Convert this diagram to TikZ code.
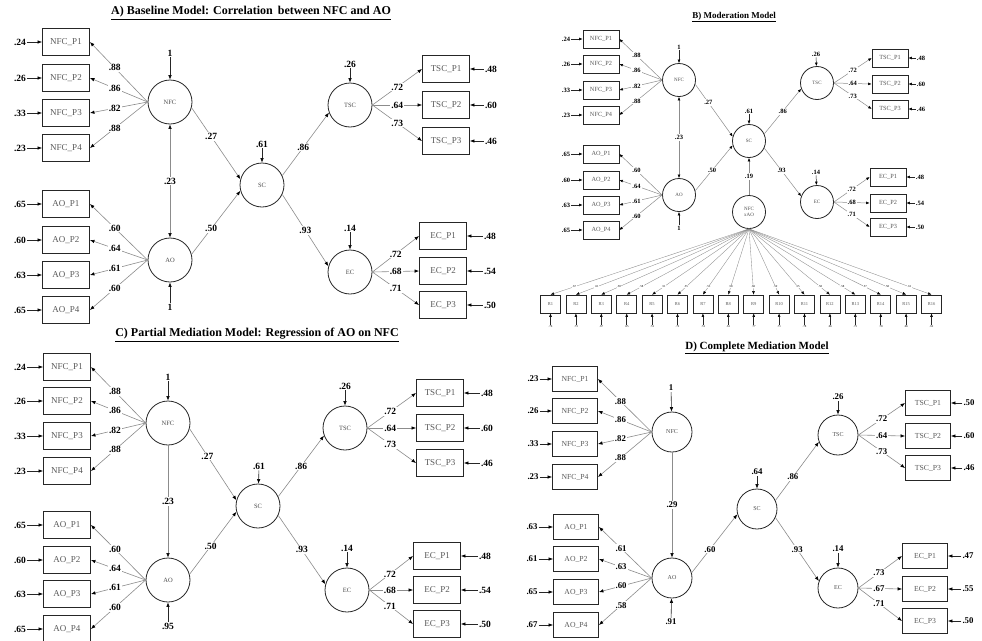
\documentclass[tikz,border=0pt]{standalone}
\usepackage{fontspec}
\setmainfont{Liberation Serif}
\usetikzlibrary{arrows.meta, positioning}

\tikzset{
  lat/.style={circle, draw=black!85, line width=0.8pt, minimum size=44pt, inner sep=0pt,
    align=center, text=black!70, font=\fontsize{6.5}{7}\selectfont},
  obs/.style={rectangle, draw=black!85, line width=0.9pt, minimum width=47pt, minimum height=27pt,
    inner sep=0pt, text=black!65, font=\fontsize{9}{10}\selectfont},
  num/.style={inner sep=1pt, font=\bfseries\fontsize{9.5}{10}\selectfont},
  coef/.style={num, fill=white},
  load/.style={draw=black!45, line width=0.6pt, -{Latex[length=4.5pt, width=3.5pt, color=black]}},
  both/.style={draw=black!45, line width=0.6pt,
    {Latex[length=4.5pt, width=3.5pt, color=black]}-{Latex[length=4.5pt, width=3.5pt, color=black]}},
  err/.style={draw=black!85, line width=0.6pt, -{Latex[length=4.5pt, width=3.5pt, color=black]}},
  heading/.style={font=\bfseries\fontsize{12}{14}\selectfont}
}

\begin{document}
\begin{tikzpicture}[x=1pt, y=-1pt]
\fill[white] (0,0) rectangle (982,640);
\useasboundingbox (0,0) rectangle (982,640);

% A) baseline model
\node[heading] (A-title) at (251,13) {\underline{A) Baseline Model: Correlation\, between NFC and AO}};
\node[lat] (A-NFC) at (170,102) {NFC};
\node[lat] (A-AO)  at (170,260) {AO};
\node[lat] (A-SC)  at (262,185) {SC};
\node[lat] (A-TSC) at (350,105) {TSC};
\node[lat] (A-EC)  at (350,272) {EC};
\foreach \i/\y/\er/\ld in {1/42/.24/.88, 2/78/.26/.86, 3/113/.33/.82, 4/148/.23/.88} {
  \node[obs] (A-NFC\i) at (66,\y) {NFC\_P\i};
  \node[num] (A-eNFC\i) at (20,\y) {\er};
  \draw[err] (A-eNFC\i) -- (A-NFC\i);
  \draw[load] (A-NFC.west) -- node[coef, pos=0.57] {\ld} (A-NFC\i.east);
}
\foreach \i/\y/\er/\ld in {1/204/.65/.60, 2/240/.60/.64, 3/275/.63/.61, 4/310/.65/.60} {
  \node[obs] (A-AO\i) at (66,\y) {AO\_P\i};
  \node[num] (A-eAO\i) at (20,\y) {\er};
  \draw[err] (A-eAO\i) -- (A-AO\i);
  \draw[load] (A-AO.west) -- node[coef, pos=0.57] {\ld} (A-AO\i.east);
}
\foreach \i/\y/\er/\ld in {1/69/.48/.72, 2/105/.60/.64, 3/141/.46/.73} {
  \node[obs] (A-TSC\i) at (446,\y) {TSC\_P\i};
  \node[num] (A-eTSC\i) at (491,\y) {\er};
  \draw[err] (A-eTSC\i) -- (A-TSC\i);
  \draw[load] (A-TSC.east) -- node[coef, pos=0.5] {\ld} (A-TSC\i.west);
}
\foreach \i/\y/\er/\ld in {1/236/.48/.72, 2/271/.54/.68, 3/305/.50/.71} {
  \node[obs] (A-EC\i) at (443,\y) {EC\_P\i};
  \node[num] (A-eEC\i) at (490,\y) {\er};
  \draw[err] (A-eEC\i) -- (A-EC\i);
  \draw[load] (A-EC.east) -- node[coef, pos=0.5] {\ld} (A-EC\i.west);
}
\draw[load] (A-NFC.-15) -- node[coef, pos=0.4] {.27} (A-SC.165);
\draw[load] (A-AO.15) -- node[coef, pos=0.4] {.50} (A-SC.195);
\draw[load] (A-SC.25) -- node[coef, pos=0.45] {.86} (A-TSC.200);
\draw[load] (A-SC.-25) -- node[coef, pos=0.5] {.93} (A-EC.165);
\draw[both] (A-NFC) -- node[coef] {.23} (A-AO);
\node[num] (A-rNFC) at (170,53) {1};
\node[num] (A-rAO) at (170,307) {1};
\node[num] (A-rSC) at (262,144) {.61};
\node[num] (A-rTSC) at (350,64) {.26};
\node[num] (A-rEC) at (350,228) {.14};
\draw[err] (A-rNFC) -- (A-NFC);
\draw[err] (A-rAO) -- (A-AO);
\draw[err] (A-rSC) -- (A-SC);
\draw[err] (A-rTSC) -- (A-TSC);
\draw[err] (A-rEC) -- (A-EC);

% C) partial mediation model
\node[heading] (C-title) at (257,335) {\underline{C) Partial Mediation Model: Regression of AO on NFC}};
\node[lat] (C-NFC) at (168,423) {NFC};
\node[lat] (C-AO)  at (168,580) {AO};
\node[lat] (C-SC)  at (258,506) {SC};
\node[lat] (C-TSC) at (345,428) {TSC};
\node[lat] (C-EC)  at (347,590) {EC};
\foreach \i/\y/\er/\ld in {1/367/.24/.88, 2/401/.26/.86, 3/436/.33/.82, 4/471/.23/.88} {
  \node[obs] (C-NFC\i) at (67,\y) {NFC\_P\i};
  \node[num] (C-eNFC\i) at (20,\y) {\er};
  \draw[err] (C-eNFC\i) -- (C-NFC\i);
  \draw[load] (C-NFC.west) -- node[coef, pos=0.56] {\ld} (C-NFC\i.east);
}
\foreach \i/\y/\er/\ld in {1/525/.65/.60, 2/560/.60/.64, 3/594/.63/.61, 4/629/.65/.60} {
  \node[obs] (C-AO\i) at (67,\y) {AO\_P\i};
  \node[num] (C-eAO\i) at (20,\y) {\er};
  \draw[err] (C-eAO\i) -- (C-AO\i);
  \draw[load] (C-AO.west) -- node[coef, pos=0.56] {\ld} (C-AO\i.east);
}
\foreach \i/\y/\er/\ld in {1/393/.48/.72, 2/428/.60/.64, 3/463/.46/.73} {
  \node[obs] (C-TSC\i) at (440,\y) {TSC\_P\i};
  \node[num] (C-eTSC\i) at (487,\y) {\er};
  \draw[err] (C-eTSC\i) -- (C-TSC\i);
  \draw[load] (C-TSC.east) -- node[coef, pos=0.47] {\ld} (C-TSC\i.west);
}
\foreach \i/\y/\er/\ld in {1/556/.48/.72, 2/590/.54/.68, 3/624/.50/.71} {
  \node[obs] (C-EC\i) at (437,\y) {EC\_P\i};
  \node[num] (C-eEC\i) at (485,\y) {\er};
  \draw[err] (C-eEC\i) -- (C-EC\i);
  \draw[load] (C-EC.east) -- node[coef, pos=0.47] {\ld} (C-EC\i.west);
}
\draw[load] (C-NFC.-15) -- node[coef, pos=0.38] {.27} (C-SC.165);
\draw[load] (C-AO.15) -- node[coef, pos=0.45] {.50} (C-SC.195);
\draw[load] (C-SC.25) -- node[coef, pos=0.5] {.86} (C-TSC.200);
\draw[load] (C-SC.-25) -- node[coef, pos=0.5] {.93} (C-EC.165);
\draw[load] (C-NFC) -- node[coef] {.23} (C-AO);
\node[num] (C-rNFC) at (168,377) {1};
\node[num] (C-rAO) at (168,626) {.95};
\node[num] (C-rSC) at (259,466) {.61};
\node[num] (C-rTSC) at (345,386) {.26};
\node[num] (C-rEC) at (347,548) {.14};
\draw[err] (C-rNFC) -- (C-NFC);
\draw[err] (C-rAO) -- (C-AO);
\draw[err] (C-rSC) -- (C-SC);
\draw[err] (C-rTSC) -- (C-TSC);
\draw[err] (C-rEC) -- (C-EC);

% B) moderation model
\begin{scope}[
    lat/.append style={minimum size=33pt, font=\fontsize{5}{5.5}\selectfont},
    obs/.append style={minimum width=36pt, minimum height=18pt, line width=0.7pt, font=\fontsize{6.3}{7}\selectfont},
    num/.append style={font=\bfseries\fontsize{6.5}{7}\selectfont},
    heading/.append style={font=\bfseries\fontsize{9}{10}\selectfont},
    load/.style={draw=black!45, line width=0.5pt, -{Latex[length=3.5pt, width=2.8pt, color=black]}},
    both/.style={draw=black!45, line width=0.5pt,
      {Latex[length=3.5pt, width=2.8pt, color=black]}-{Latex[length=3.5pt, width=2.8pt, color=black]}},
    err/.style={draw=black!85, line width=0.5pt, -{Latex[length=3.5pt, width=2.8pt, color=black]}},
    rbox/.style={obs, minimum width=20pt, minimum height=18pt, font=\fontsize{4.5}{5}\selectfont},
    tiny/.style={inner sep=0.5pt, font=\fontsize{3}{3.5}\selectfont}
  ]
\node[heading] (B-title) at (734,17) {\underline{B) Moderation Model}};
\node[lat] (B-NFC) at (679,80) {NFC};
\node[lat] (B-AO)  at (679,195) {AO};
\node[lat] (B-SC)  at (749,141) {SC};
\node[lat] (B-TSC) at (817,83) {TSC};
\node[lat] (B-EC)  at (817,202) {EC};
\node[lat] (B-INT) at (749,212) {NFC\\xAO};
\foreach \i/\y/\er/\ld in {1/39/.24/.88, 2/64/.26/.86, 3/90/.33/.82, 4/115/.23/.88} {
  \node[obs] (B-NFC\i) at (601,\y) {NFC\_P\i};
  \node[num] (B-eNFC\i) at (566,\y) {\er};
  \draw[err] (B-eNFC\i) -- (B-NFC\i);
  \draw[load] (B-NFC.west) -- node[coef, pos=0.6] {\ld} (B-NFC\i.east);
}
\foreach \i/\y/\er/\ld in {1/154/.65/.60, 2/180/.60/.64, 3/205/.63/.61, 4/230/.65/.60} {
  \node[obs] (B-AO\i) at (601,\y) {AO\_P\i};
  \node[num] (B-eAO\i) at (566,\y) {\er};
  \draw[err] (B-eAO\i) -- (B-AO\i);
  \draw[load] (B-AO.west) -- node[coef, pos=0.6] {\ld} (B-AO\i.east);
}
\foreach \i/\y/\er/\ld in {1/58/.48/.72, 2/84/.60/.64, 3/109/.46/.73} {
  \node[obs] (B-TSC\i) at (890,\y) {TSC\_P\i};
  \node[num] (B-eTSC\i) at (921,\y) {\er};
  \draw[err] (B-eTSC\i) -- (B-TSC\i);
  \draw[load] (B-TSC.east) -- node[coef, pos=0.5] {\ld} (B-TSC\i.west);
}
\foreach \i/\y/\er/\ld in {1/177/.48/.72, 2/203/.54/.68, 3/227/.50/.71} {
  \node[obs] (B-EC\i) at (888,\y) {EC\_P\i};
  \node[num] (B-eEC\i) at (920,\y) {\er};
  \draw[err] (B-eEC\i) -- (B-EC\i);
  \draw[load] (B-EC.east) -- node[coef, pos=0.5] {\ld} (B-EC\i.west);
}
\draw[load] (B-NFC.-15) -- node[coef, pos=0.35] {.27} (B-SC.165);
\draw[load] (B-AO.15) -- node[coef, pos=0.45] {.50} (B-SC.195);
\draw[load] (B-SC.25) -- node[coef, pos=0.5] {.86} (B-TSC.200);
\draw[load] (B-SC.-25) -- node[coef, pos=0.47] {.93} (B-EC.160);
\draw[load] (B-INT) -- node[coef] {.19} (B-SC);
\draw[both] (B-NFC) -- node[coef] {.23} (B-AO);
\node[num] (B-rNFC) at (679,47) {1};
\node[num] (B-rAO) at (679,228) {1};
\node[num] (B-rSC) at (749,111) {.61};
\node[num] (B-rTSC) at (816,54) {.26};
\node[num] (B-rEC) at (816,172) {.14};
\draw[err] (B-rNFC) -- (B-NFC);
\draw[err] (B-rAO) -- (B-AO);
\draw[err] (B-rSC) -- (B-SC);
\draw[err] (B-rTSC) -- (B-TSC);
\draw[err] (B-rEC) -- (B-EC);
% product indicators
\foreach \i/\ld/\er in {1/.67/.76, 2/.61/.73, 3/.58/.67, 4/.58/.65, 5/.51/.74, 6/.55/.72,
    7/.53/.74, 8/.58/.61, 9/.60/.77, 10/.59/.71, 11/.55/.78, 12/.58/.66, 13/.58/.75,
    14/.57/.70, 15/.58/.66, 16/.61/.62} {
  \node[rbox] (B-R\i) at ({550.5+(\i-1)*25.4},304) {R\i};
  \node[tiny] (B-eR\i) at ({550.5+(\i-1)*25.4},327) {\er};
  \draw[err] (B-eR\i) -- (B-R\i);
  \draw[load, line width=0.35pt] (B-INT.south) -- node[tiny, fill=white, pos=0.88] {\ld} (B-R\i.north);
}
\end{scope}

% D) complete mediation model
\begin{scope}[
    lat/.append style={minimum size=40pt, font=\fontsize{6}{6.5}\selectfont},
    obs/.append style={minimum width=45pt, minimum height=25pt, font=\fontsize{7.7}{8.5}\selectfont},
    num/.append style={font=\bfseries\fontsize{8.8}{9.5}\selectfont},
    heading/.append style={font=\bfseries\fontsize{11}{13}\selectfont}
  ]
\node[heading] (D-title) at (757,348) {\underline{D) Complete Mediation Model}};
\node[lat] (D-NFC) at (672,432) {NFC};
\node[lat] (D-AO)  at (672,578) {AO};
\node[lat] (D-SC)  at (757,509) {SC};
\node[lat] (D-TSC) at (838,435) {TSC};
\node[lat] (D-EC)  at (838,588) {EC};
\foreach \i/\y/\er/\ld in {1/379/.23/.88, 2/411/.26/.86, 3/444/.33/.82, 4/477/.23/.88} {
  \node[obs] (D-NFC\i) at (575,\y) {NFC\_P\i};
  \node[num] (D-eNFC\i) at (533,\y) {\er};
  \draw[err] (D-eNFC\i) -- (D-NFC\i);
  \draw[load] (D-NFC.west) -- node[coef, pos=0.58] {\ld} (D-NFC\i.east);
}
\foreach \i/\y/\er/\ld in {1/527/.63/.61, 2/559/.61/.63, 3/592/.65/.60, 4/625/.67/.58} {
  \node[obs] (D-AO\i) at (576,\y) {AO\_P\i};
  \node[num] (D-eAO\i) at (532,\y) {\er};
  \draw[err] (D-eAO\i) -- (D-AO\i);
  \draw[load] (D-AO.west) -- node[coef, pos=0.58] {\ld} (D-AO\i.east);
}
\foreach \i/\y/\er/\ld in {1/403/.50/.72, 2/436/.60/.64, 3/468/.46/.73} {
  \node[obs] (D-TSC\i) at (928,\y) {TSC\_P\i};
  \node[num] (D-eTSC\i) at (969,\y) {\er};
  \draw[err] (D-eTSC\i) -- (D-TSC\i);
  \draw[load] (D-TSC.east) -- node[coef, pos=0.5] {\ld} (D-TSC\i.west);
}
\foreach \i/\y/\er/\ld in {1/556/.47/.73, 2/589/.55/.67, 3/621/.50/.71} {
  \node[obs] (D-EC\i) at (925,\y) {EC\_P\i};
  \node[num] (D-eEC\i) at (968,\y) {\er};
  \draw[err] (D-eEC\i) -- (D-EC\i);
  \draw[load] (D-EC.east) -- node[coef, pos=0.47] {\ld} (D-EC\i.west);
}
\draw[load] (D-AO.15) -- node[coef, pos=0.4] {.60} (D-SC.195);
\draw[load] (D-SC.25) -- node[coef, pos=0.4] {.86} (D-TSC.200);
\draw[load] (D-SC.-25) -- node[coef, pos=0.5] {.93} (D-EC.160);
\draw[load] (D-NFC) -- node[coef] {.29} (D-AO);
\node[num] (D-rNFC) at (671,388) {1};
\node[num] (D-rAO) at (671,622) {.91};
\node[num] (D-rSC) at (757,472) {.64};
\node[num] (D-rTSC) at (838,397) {.26};
\node[num] (D-rEC) at (838,549) {.14};
\draw[err] (D-rNFC) -- (D-NFC);
\draw[err] (D-rAO) -- (D-AO);
\draw[err] (D-rSC) -- (D-SC);
\draw[err] (D-rTSC) -- (D-TSC);
\draw[err] (D-rEC) -- (D-EC);
\end{scope}
\end{tikzpicture}
\end{document}
